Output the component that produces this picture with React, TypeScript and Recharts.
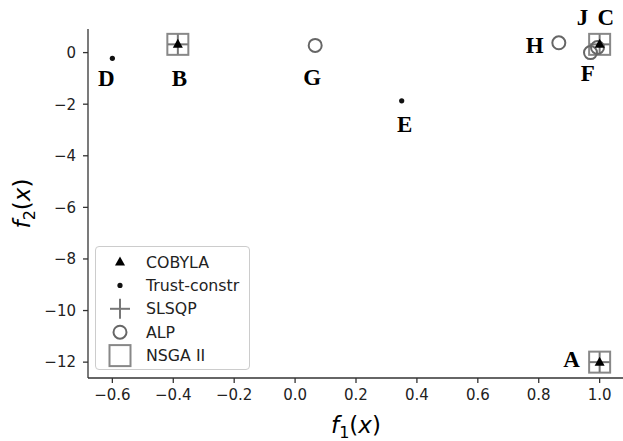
import React from "react";
import {
  ScatterChart,
  Scatter,
  XAxis,
  YAxis,
  ReferenceDot,
} from "recharts";

// values
const cobyla = [
  { x: 1.0, y: -12 },
  { x: -0.385, y: 0.32 },
  { x: 1.0, y: 0.32 },
];
const trustConstr = [
  { x: -0.6, y: -0.22 },
  { x: 0.35, y: -1.87 },
];
const slsqp = [
  { x: 1.0, y: -12 },
  { x: -0.385, y: 0.32 },
  { x: 1.0, y: 0.32 },
];
const alp = [
  { x: 0.066, y: 0.28 },
  { x: 0.866, y: 0.38 },
  { x: 0.97, y: 0.0 },
  { x: 0.993, y: 0.2 },
];
const nsga = [
  { x: 1.0, y: -12 },
  { x: -0.385, y: 0.32 },
  { x: 1.0, y: 0.32 },
];

const pointLabels = [
  { name: "A", x: 0.908, y: -11.88 },
  { name: "B", x: -0.38, y: -1.01 },
  { name: "C", x: 1.02, y: 1.36 },
  { name: "D", x: -0.62, y: -1.01 },
  { name: "E", x: 0.36, y: -2.8 },
  { name: "F", x: 0.961, y: -0.82 },
  { name: "G", x: 0.056, y: -0.97 },
  { name: "H", x: 0.787, y: 0.27 },
  { name: "J", x: 0.944, y: 1.36 },
];

const xTicks = [-0.6, -0.4, -0.2, 0, 0.2, 0.4, 0.6, 0.8, 1.0];
const yTicks = [-12, -10, -8, -6, -4, -2, 0];
const xDomain = [-0.68, 1.08];
const yDomain = [-12.615, 0.915];

const SANS = "'DejaVu Sans', sans-serif";
const SERIF = "'Liberation Serif', 'Times New Roman', serif";
const GRAY = "#777";

const minus = (s: string) => s.replace("-", "\u2212");

const Tri = ({ cx, cy }: any) => (
  <path d={`M${cx},${cy - 5.5} L${cx + 5},${cy + 3.5} L${cx - 5},${cy + 3.5} Z`} fill="#000" />
);
const Dot = ({ cx, cy }: any) => <circle cx={cx} cy={cy} r={2.6} fill="#111" />;
const Plus = ({ cx, cy }: any) => (
  <g stroke={GRAY} strokeWidth={2}>
    <line x1={cx - 10} y1={cy} x2={cx + 10} y2={cy} />
    <line x1={cx} y1={cy - 10} x2={cx} y2={cy + 10} />
  </g>
);
const Ring = ({ cx, cy }: any) => (
  <circle cx={cx} cy={cy} r={6.5} fill="none" stroke="#666" strokeWidth={2} />
);
const Square = ({ cx, cy }: any) => (
  <rect x={cx - 10.5} y={cy - 10.5} width={21} height={21} fill="none" stroke="#888" strokeWidth={2} />
);

const legendItems = [
  { name: "COBYLA", Shape: Tri },
  { name: "Trust-constr", Shape: Dot },
  { name: "SLSQP", Shape: Plus },
  { name: "ALP", Shape: Ring },
  { name: "NSGA II", Shape: Square },
];

const LetterLabel = (name: string) => (props: any) => (
  <text
    x={props.cx}
    y={props.cy}
    dy={7.5}
    textAnchor="middle"
    fontFamily={SERIF}
    fontWeight="bold"
    fontSize={23}
    fill="#000"
  >
    {name}
  </text>
);

const XLabel = ({ viewBox }: any) => (
  <text
    x={viewBox.x + viewBox.width / 2}
    y={viewBox.y + 55}
    textAnchor="middle"
    fontFamily={SANS}
    fontSize={23}
    fill="#000"
  >
    <tspan fontStyle="italic">f</tspan>
    <tspan fontSize={16} dy={5}>1</tspan>
    <tspan dy={-5}>(</tspan>
    <tspan fontStyle="italic">x</tspan>
    <tspan>)</tspan>
  </text>
);

const YLabel = ({ viewBox }: any) => {
  const cx = viewBox.x + 22;
  const cy = viewBox.y + viewBox.height / 2;
  return (
    <text
      x={cx}
      y={cy}
      dy={8}
      transform={`rotate(-90 ${cx} ${cy})`}
      textAnchor="middle"
      fontFamily={SANS}
      fontSize={23}
      fill="#000"
    >
      <tspan fontStyle="italic">f</tspan>
      <tspan fontSize={16} dy={5}>2</tspan>
      <tspan dy={-5}>(</tspan>
      <tspan fontStyle="italic">x</tspan>
      <tspan>)</tspan>
    </text>
  );
};

const tickStyle = { fontFamily: SANS, fontSize: 15, fill: "#222" };
const axisLine = { stroke: "#333", strokeWidth: 1.3 };

export default function App() {
  return (
    <div
      style={{
        position: "absolute",
        left: 0,
        top: 0,
        width: 623,
        height: 441,
        overflow: "hidden",
        background: "#fff",
      }}
    >
      <ScatterChart width={630} height={441} margin={{ top: 29, right: 6, bottom: 0, left: 0 }}>
        <XAxis
          type="number"
          dataKey="x"
          domain={xDomain}
          ticks={xTicks}
          allowDataOverflow
          tickFormatter={(v: number) => minus(v.toFixed(1))}
          tick={tickStyle}
          tickSize={5}
          tickMargin={6}
          axisLine={axisLine}
          tickLine={axisLine}
          height={63}
          label={<XLabel />}
        />
        <XAxis
          xAxisId="top"
          orientation="top"
          type="number"
          domain={xDomain}
          allowDataOverflow
          tick={false}
          tickLine={false}
          axisLine={axisLine}
          height={0}
        />
        <YAxis
          type="number"
          dataKey="y"
          domain={yDomain}
          ticks={yTicks}
          allowDataOverflow
          tickFormatter={(v: number) => minus(String(v))}
          tick={tickStyle}
          tickSize={5}
          tickMargin={7}
          axisLine={axisLine}
          tickLine={axisLine}
          width={88}
          label={<YLabel />}
        />
        <Scatter name="NSGA II" data={nsga} shape={<Square />} isAnimationActive={false} />
        <Scatter name="SLSQP" data={slsqp} shape={<Plus />} isAnimationActive={false} />
        <Scatter name="ALP" data={alp} shape={<Ring />} isAnimationActive={false} />
        <Scatter name="Trust-constr" data={trustConstr} shape={<Dot />} isAnimationActive={false} />
        <Scatter name="COBYLA" data={cobyla} shape={<Tri />} isAnimationActive={false} />
        {pointLabels.map((l) => (
          <ReferenceDot
            key={l.name}
            x={l.x}
            y={l.y}
            r={0}
            ifOverflow="visible"
            shape={LetterLabel(l.name)}
          />
        ))}
      </ScatterChart>
      <div
        style={{
          position: "absolute",
          left: 95,
          top: 246,
          width: 153,
          height: 122,
          border: "1px solid #ccc",
          borderRadius: 4,
          background: "rgba(255,255,255,0.8)",
        }}
      >
        <svg width={153} height={122} style={{ display: "block" }}>
          {legendItems.map(({ name, Shape }, i) => {
            const cy = 15 + i * 23.4;
            return (
              <g key={name}>
                <Shape cx={24} cy={cy} />
                <text x={50} y={cy} dy={5.5} fontFamily={SANS} fontSize={15.8} fill="#222">
                  {name}
                </text>
              </g>
            );
          })}
        </svg>
      </div>
    </div>
  );
}
